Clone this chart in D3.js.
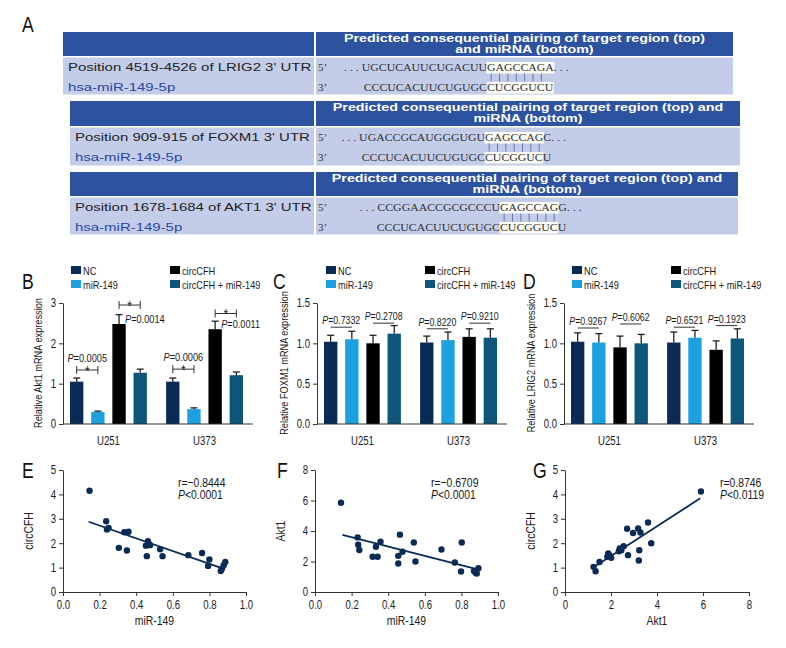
<!DOCTYPE html>
<html>
<head>
<meta charset="utf-8">
<script src="https://cdn.jsdelivr.net/npm/d3@7"></script>
<style>
  body { margin: 0; background: #fff; }
  svg { display: block; }
</style>
</head>
<body>
<svg width="786" height="648"></svg>
<script>
var svg = d3.select("svg");

var SANS = "'Liberation Sans',Arial,sans-serif";
var SERIF = "'Liberation Serif','Times New Roman',serif";
var NARROW = 0.8;   // no condensed face installed, so squeeze Liberation Sans
var WIDE = 1.36;    // panel A was stretched sideways in the figure

// ---------- panel A : target site tables
var siteNames = ["Position 4519-4526 of LRIG2 3' UTR",
                 "Position 909-915 of FOXM1 3' UTR",
                 "Position 1678-1684 of AKT1 3' UTR"];
var mirName = "hsa-miR-149-5p";
var headerText = [
  ["Predicted consequential pairing of target region (top)", "and miRNA (bottom)"],
  ["Predicted consequential pairing of target region (top) and", "miRNA (bottom)"],
  ["Predicted consequential pairing of target region (top) and", "miRNA (bottom)"]
];
// [before seed, seed, after seed]
var target5 = [
  [". . . UGCUCAUUCUGACUU", "GAGCCAGA", ". . ."],
  [". . . UGACCGCAUGGGUGU", "GAGCCAG", "C. . ."],
  [". . . CCGGAACCGCGCCCU", "GAGCCAG", "G. . ."]
];
var mir3 = [
  ["CCCUCACUUCUGUGC", "CUCGGUCU", ""],
  ["CCCUCACUUCUGUGC", "CUCGGUC", "U"],
  ["CCCUCACUUCUGUGC", "CUCGGUC", "U"]
];
var pairCount = [7, 7, 7];

// ---------- panels B-D : qPCR bars
var cellLines = ["U251", "U373"];
var treatments = ["NC", "miR-149", "circCFH", "circCFH + miR-149"];
var treatColors = ["#0b2b57", "#1da0e0", "#000000", "#0d5579"];

var akt1Mean = [[1.05, 0.30, 2.48, 1.27], [1.05, 0.37, 2.35, 1.21]];
var akt1Err  = [[0.09, 0.02, 0.23, 0.09], [0.09, 0.03, 0.20, 0.08]];
var akt1P    = ["0.0005", "0.0014", "0.0006", "0.0011"];

var foxm1Mean = [[1.02, 1.05, 1.00, 1.12], [1.01, 1.04, 1.08, 1.07]];
var foxm1Err  = [[0.08, 0.10, 0.10, 0.10], [0.08, 0.10, 0.10, 0.11]];
var foxm1P    = ["0.7332", "0.2708", "0.8220", "0.9210"];

var lrig2Mean = [[1.02, 1.01, 0.95, 1.00], [1.01, 1.07, 0.92, 1.06]];
var lrig2Err  = [[0.11, 0.11, 0.14, 0.11], [0.13, 0.09, 0.11, 0.12]];
var lrig2P    = ["0.9267", "0.6062", "0.6521", "0.1923"];

// comparisons: cell line index, bar a, bar b, line level, text level
var akt1Comp  = [[0, 0, 1, 1.34, 1.54], [0, 2, 3, 2.95, 2.50], [1, 0, 1, 1.36, 1.56], [1, 2, 3, 2.74, 2.39]];
var foxm1Comp = [[0, 0, 1, 1.20], [0, 2, 3, 1.25], [1, 0, 1, 1.18], [1, 2, 3, 1.25]];
var lrig2Comp = [[0, 0, 1, 1.19], [0, 2, 3, 1.24], [1, 0, 1, 1.20], [1, 2, 3, 1.22]];

// ---------- panels E-G : correlations
var eMiR  = [0.145, 0.236, 0.240, 0.249, 0.305, 0.335, 0.358, 0.349, 0.453, 0.464, 0.476, 0.458, 0.470, 0.531, 0.544, 0.685, 0.760, 0.800, 0.793, 0.862, 0.869, 0.878, 0.887];
var eCirc = [4.15, 2.90, 2.56, 2.63, 1.81, 2.45, 2.47, 1.70, 1.90, 2.08, 1.92, 1.47, 1.96, 1.75, 1.47, 1.51, 1.60, 1.33, 1.07, 0.86, 0.96, 1.10, 1.23];
var eFit  = [[0.14, 2.88], [0.86, 1.00]];

var fMiR  = [0.142, 0.233, 0.236, 0.242, 0.315, 0.333, 0.342, 0.358, 0.455, 0.455, 0.464, 0.478, 0.540, 0.549, 0.691, 0.764, 0.802, 0.798, 0.869, 0.878, 0.884, 0.893];
var fAkt  = [5.85, 3.58, 3.10, 2.75, 2.31, 2.97, 2.31, 3.30, 2.37, 1.87, 3.76, 2.64, 3.25, 2.00, 2.79, 1.93, 3.25, 1.34, 1.38, 1.27, 1.21, 1.56];
var fFit  = [[0.15, 3.74], [0.873, 1.54]];

var gAkt  = [1.24, 1.33, 1.50, 1.84, 1.88, 1.94, 2.01, 2.34, 2.38, 2.45, 2.55, 2.70, 2.74, 2.96, 3.18, 3.28, 3.23, 3.21, 3.61, 3.75, 5.91];
var gCirc = [1.03, 0.85, 1.23, 1.44, 1.58, 1.50, 1.40, 1.67, 1.78, 1.71, 1.88, 2.59, 1.51, 2.42, 2.60, 2.44, 1.71, 1.29, 2.85, 2.00, 4.12];
var gFit  = [[1.28, 1.03], [5.88, 3.84]];

// =====================================================================
// stretch or squeeze a text to a fraction of its natural width
function squeeze(sel, f) {
  sel.each(function() {
    var w = this.getComputedTextLength();
    d3.select(this).attr("textLength", w * f).attr("lengthAdjust", "spacingAndGlyphs");
  });
  return sel;
}

function cond(sel, size) {
  return sel.attr("class", "cond").style("font-family", SANS).style("font-size", size + "px").attr("fill", "#1a1a1a");
}

function letter(txt, x, y) {
  cond(svg.append("text").attr("x", x).attr("y", y).text(txt), 22).attr("fill", "#111");
}

// ---------- panel A drawing
letter("A", 22, 32);

var tableBoxes = [
  { x0: 63, x1: 733, top: 32, hh: 24, bh: 37, seedX: 487 },
  { x0: 70, x1: 740, top: 101, hh: 25, bh: 38, seedX: 485 },
  { x0: 70, x1: 738, top: 172, hh: 24, bh: 37, seedX: 500 }
];
var splitX = 314;
var SEQ_SIZE = 10, SEQ_F = 1.18;

function seqLine(g, x, y, parts) {
  var tmp = g.append("text").text(parts[1]).style("font-family", SERIF).style("font-size", SEQ_SIZE + "px");
  var wSeed = tmp.node().getComputedTextLength() * SEQ_F;
  tmp.remove();
  g.append("rect").attr("x", x - 0.5).attr("y", y - 8.5).attr("width", wSeed + 1).attr("height", 11.5)
    .attr("fill", "#fdfcf4");
  var pre = g.append("text").attr("x", x).attr("y", y).attr("text-anchor", "end").text(parts[0])
    .style("font-family", SERIF).style("font-size", SEQ_SIZE + "px").attr("fill", "#333");
  var post = g.append("text").attr("x", x).attr("y", y).text(parts[1] + parts[2])
    .style("font-family", SERIF).style("font-size", SEQ_SIZE + "px").attr("fill", "#333");
  squeeze(pre, SEQ_F);
  squeeze(post, SEQ_F);
  return wSeed / parts[1].length;
}

tableBoxes.forEach(function(b, i) {
  var g = svg.append("g");
  var bodyTop = b.top + b.hh + 1.5;
  g.append("rect").attr("x", b.x0).attr("y", b.top).attr("width", splitX - b.x0).attr("height", b.hh).attr("fill", "#2c52a0");
  g.append("rect").attr("x", splitX + 2).attr("y", b.top).attr("width", b.x1 - splitX - 2).attr("height", b.hh).attr("fill", "#2c52a0");
  g.append("rect").attr("x", b.x0).attr("y", bodyTop).attr("width", splitX - b.x0).attr("height", b.bh).attr("fill", "#c3cdea");
  g.append("rect").attr("x", splitX + 2).attr("y", bodyTop).attr("width", b.x1 - splitX - 2).attr("height", b.bh).attr("fill", "#c3cdea");

  var cx = (splitX + 2 + b.x1) / 2;
  headerText[i].forEach(function(line, k) {
    squeeze(g.append("text").attr("x", cx).attr("y", b.top + 10 + k * 11).attr("text-anchor", "middle").text(line)
      .style("font-family", SANS).style("font-size", "10.5px").style("font-weight", "bold").attr("fill", "#fff"), WIDE);
  });

  var y1 = bodyTop + 13, y2 = bodyTop + 33;
  squeeze(g.append("text").attr("x", b.x0 + 5).attr("y", y1).text(siteNames[i])
    .style("font-family", SANS).style("font-size", "11px").attr("fill", "#222"), WIDE);
  squeeze(g.append("text").attr("x", b.x0 + 5).attr("y", y2).text(mirName)
    .style("font-family", SANS).style("font-size", "11px").attr("fill", "#2b45a0"), WIDE);
  g.append("text").attr("x", splitX + 4).attr("y", y1).text("5\u2019")
    .style("font-family", SERIF).style("font-size", "11px").attr("fill", "#333");
  g.append("text").attr("x", splitX + 4).attr("y", y2).text("3\u2019")
    .style("font-family", SERIF).style("font-size", "11px").attr("fill", "#333");

  var cw = seqLine(g, b.seedX, y1, target5[i]);
  seqLine(g, b.seedX, y2, mir3[i]);
  d3.range(pairCount[i]).forEach(function(k) {
    var px = b.seedX + (k + 0.5) * cw;
    g.append("line").attr("x1", px).attr("x2", px).attr("y1", y1 + 3).attr("y2", y2 - 9)
      .attr("stroke", "#5b6cae").attr("stroke-width", 0.9);
  });
});

// ---------- bar panels
function barPanel(p) {
  var g = svg.append("g");
  var y = d3.scaleLinear().domain([0, p.yMax]).range([424, 303]);
  var x0 = d3.scaleBand().domain(cellLines).range([p.ax + 7, p.ax + 180]).paddingInner(0.2);
  var x1 = d3.scaleBand().domain(treatments).range([0, x0.bandwidth()]).paddingInner(0.37);
  function cx(ci, ti) { return x0(cellLines[ci]) + x1(treatments[ti]) + x1.bandwidth() / 2; }

  letter(p.letter, p.letterX, 289);

  // legend
  treatments.forEach(function(t, i) {
    var lx = p.lx + (i >= 2 ? 99 : 0);
    var ly = 266 + (i % 2) * 14;
    g.append("rect").attr("x", lx).attr("y", ly).attr("width", 10).attr("height", 8).attr("fill", treatColors[i]);
    cond(g.append("text").attr("x", lx + 12).attr("y", ly + 8.5).text(t), 11.5);
  });

  // bars
  cellLines.forEach(function(c, ci) {
    treatments.forEach(function(t, ti) {
      var v = p.mean[ci][ti], e = p.err[ci][ti];
      var bx = x0(c) + x1(t);
      g.append("rect").attr("x", bx).attr("y", y(v)).attr("width", x1.bandwidth()).attr("height", y(0) - y(v))
        .attr("fill", treatColors[ti]);
      var mx = bx + x1.bandwidth() / 2;
      g.append("line").attr("x1", mx).attr("x2", mx).attr("y1", y(v)).attr("y2", y(v + e))
        .attr("stroke", "#111").attr("stroke-width", 1.2);
      g.append("line").attr("x1", mx - 3.5).attr("x2", mx + 3.5).attr("y1", y(v + e)).attr("y2", y(v + e))
        .attr("stroke", "#111").attr("stroke-width", 1.2);
    });
  });

  // axes
  var ya = g.append("g").attr("transform", "translate(" + p.ax + ",0)")
    .call(d3.axisLeft(y).tickValues(p.ticks).tickFormat(d3.format(p.fmt)).tickSize(4).tickSizeOuter(0).tickPadding(3));
  cond(ya.selectAll("text"), 12);
  ya.selectAll("path,line").attr("stroke", "#333");

  g.append("line").attr("x1", p.ax).attr("x2", p.ax + 190).attr("y1", 424).attr("y2", 424).attr("stroke", "#333");
  var xa = g.append("g").attr("transform", "translate(0,424)")
    .call(d3.axisBottom(x0).tickSize(0).tickPadding(12));
  xa.select(".domain").remove();
  cond(xa.selectAll("text"), 12);

  cond(g.append("text").attr("transform", "translate(" + (p.ax - p.labOff) + ",363) rotate(-90)")
    .attr("text-anchor", "middle").text(p.ylabel), 11.5);

  // comparisons
  p.comp.forEach(function(c, k) {
    var xa_ = cx(c[0], c[1]), xb = cx(c[0], c[2]), ly = y(c[3]);
    g.append("line").attr("x1", xa_).attr("x2", xb).attr("y1", ly).attr("y2", ly)
      .attr("stroke", "#333").attr("stroke-width", 1);
    var t;
    if (p.star) {
      [xa_, xb].forEach(function(ex) {
        g.append("line").attr("x1", ex).attr("x2", ex).attr("y1", ly - 4).attr("y2", ly + 4)
          .attr("stroke", "#333").attr("stroke-width", 1);
      });
      cond(g.append("text").attr("x", (xa_ + xb) / 2).attr("y", ly + 6).attr("text-anchor", "middle").text("*"), 15);
      var start = c[1] === 2;
      t = g.append("text").attr("x", start ? xa_ + 6 : (xa_ + xb) / 2).attr("y", y(c[4]))
        .attr("text-anchor", start ? "start" : "middle");
      cond(t, 11.5);
    } else {
      t = g.append("text").attr("x", (xa_ + xb) / 2).attr("y", ly - 3).attr("text-anchor", "middle");
      cond(t, 11);
    }
    t.append("tspan").text("P").style("font-style", "italic");
    t.append("tspan").text("=" + p.pvals[k]);
  });
}

barPanel({ letter: "B", letterX: 22, ax: 63, lx: 71, yMax: 3, ticks: [0, 1, 2, 3], fmt: "d",
  mean: akt1Mean, err: akt1Err, comp: akt1Comp, pvals: akt1P, star: true,
  ylabel: "Relative Akt1 mRNA expression", labOff: 21 });
barPanel({ letter: "C", letterX: 273, ax: 317, lx: 326, yMax: 1.5, ticks: [0, 0.5, 1, 1.5], fmt: ".1f",
  mean: foxm1Mean, err: foxm1Err, comp: foxm1Comp, pvals: foxm1P, star: false,
  ylabel: "Relative FOXM1 mRNA expression", labOff: 29 });
barPanel({ letter: "D", letterX: 523, ax: 564, lx: 572, yMax: 1.5, ticks: [0, 0.5, 1, 1.5], fmt: ".1f",
  mean: lrig2Mean, err: lrig2Err, comp: lrig2Comp, pvals: lrig2P, star: false,
  ylabel: "Relative LRIG2 mRNA expression", labOff: 29 });

// ---------- scatter panels
function scatterPanel(p) {
  var g = svg.append("g");
  var x = d3.scaleLinear().domain(p.xDom).range([p.ax, p.ax + p.w]);
  var y = d3.scaleLinear().domain(p.yDom).range([592, 470]);

  letter(p.letter, p.letterX, 478);

  var ya = g.append("g").attr("transform", "translate(" + p.ax + ",0)")
    .call(d3.axisLeft(y).tickValues(p.yTicks).tickFormat(d3.format("d")).tickSize(4).tickSizeOuter(0).tickPadding(3));
  var xa = g.append("g").attr("transform", "translate(0,592)")
    .call(d3.axisBottom(x).tickValues(p.xTicks).tickFormat(d3.format(p.xFmt)).tickSize(4).tickSizeOuter(0).tickPadding(4));
  [ya, xa].forEach(function(a) {
    cond(a.selectAll("text"), 12);
    a.selectAll("path,line").attr("stroke", "#333");
  });

  cond(g.append("text").attr("x", p.ax + p.w / 2).attr("y", 625).attr("text-anchor", "middle").text(p.xlabel), 13);
  cond(g.append("text").attr("transform", "translate(" + (p.ax - p.labOff) + ",531) rotate(-90)")
    .attr("text-anchor", "middle").text(p.ylabel), 13);

  g.append("line").attr("x1", x(p.fit[0][0])).attr("y1", y(p.fit[0][1]))
    .attr("x2", x(p.fit[1][0])).attr("y2", y(p.fit[1][1]))
    .attr("stroke", "#0b2b57").attr("stroke-width", 1.8);

  g.selectAll("circle.pt").data(p.xs).enter().append("circle")
    .attr("cx", function(d) { return x(d); })
    .attr("cy", function(d, i) { return y(p.ys[i]); })
    .attr("r", 3.2).attr("fill", "#0b2b57");

  cond(g.append("text").attr("x", p.rx).attr("y", 487).text(p.r), 13);
  var t = cond(g.append("text").attr("x", p.rx).attr("y", 499), 13);
  t.append("tspan").text("P").style("font-style", "italic");
  t.append("tspan").text(p.p);
}

scatterPanel({ letter: "E", letterX: 22, ax: 63, w: 183, xDom: [0, 1], yDom: [0, 5],
  xTicks: [0, 0.2, 0.4, 0.6, 0.8, 1.0], xFmt: ".1f", yTicks: [0, 1, 2, 3, 4, 5],
  xs: eMiR, ys: eCirc, fit: eFit, xlabel: "miR-149", ylabel: "circCFH", labOff: 30,
  rx: 178, r: "r=\u22120.8444", p: "<0.0001" });
scatterPanel({ letter: "F", letterX: 277, ax: 315, w: 183, xDom: [0, 1], yDom: [0, 8],
  xTicks: [0, 0.2, 0.4, 0.6, 0.8, 1.0], xFmt: ".1f", yTicks: [0, 2, 4, 6, 8],
  xs: fMiR, ys: fAkt, fit: fFit, xlabel: "miR-149", ylabel: "Akt1", labOff: 30,
  rx: 431, r: "r=\u22120.6709", p: "<0.0001" });
scatterPanel({ letter: "G", letterX: 533, ax: 565, w: 184, xDom: [0, 8], yDom: [0, 5],
  xTicks: [0, 2, 4, 6, 8], xFmt: "d", yTicks: [0, 1, 2, 3, 4, 5],
  xs: gAkt, ys: gCirc, fit: gFit, xlabel: "Akt1", ylabel: "circCFH", labOff: 30,
  rx: 720, r: "r=0.8746", p: "<0.0119" });

// condensed look for every chart text
squeeze(svg.selectAll("text.cond"), NARROW);
</script>
</body>
</html>
